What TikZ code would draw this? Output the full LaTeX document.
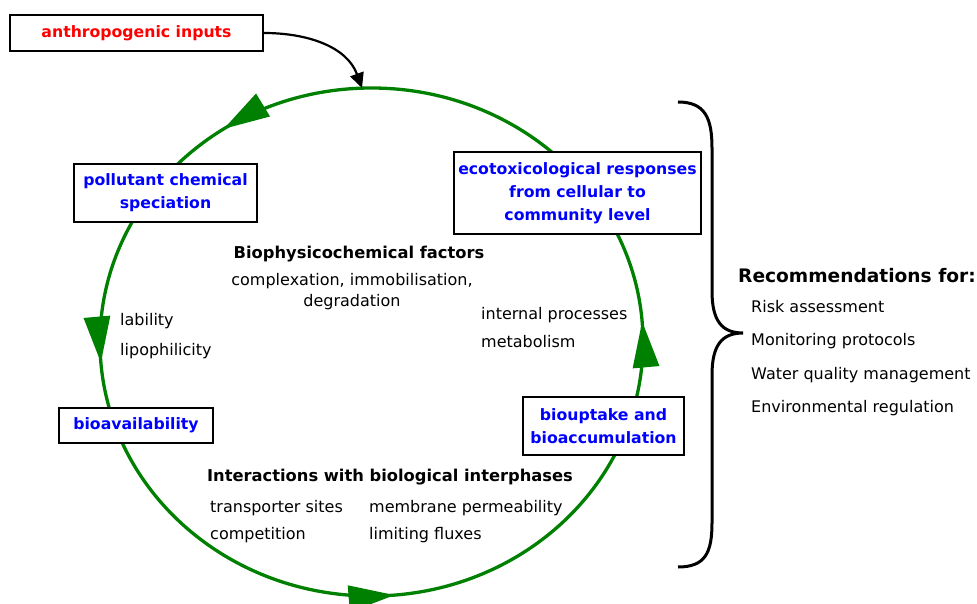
\documentclass[tikz,border=0pt]{standalone}
\usepackage{fontspec}
\setmainfont{DejaVu Sans}
\usetikzlibrary{arrows.meta,decorations.markings}
\definecolor{cyclegreen}{RGB}{0,128,0}
\newcommand{\boxfont}{\fontsize{15.7}{23}\selectfont\bfseries}
\newcommand{\headfont}{\fontsize{16.3}{23}\selectfont\bfseries}
\newcommand{\txtfont}{\fontsize{16}{21}\selectfont}
\newcommand{\recfont}{\fontsize{18.6}{22}\selectfont\bfseries}

\begin{document}
\begin{tikzpicture}[x=1pt,y=1pt,>=Latex,
  stage/.style={draw=black,line width=1.6pt,fill=white,text=blue,font=\boxfont,align=center,inner sep=0pt},
  heading/.style={font=\headfont,inner sep=0pt},
  txt/.style={font=\txtfont,anchor=west,inner sep=0pt},
  flowtip/.tip={Triangle[length=46pt,width=26pt]}]
  \useasboundingbox (0,0) rectangle (977,603);
  % the cycle
  \coordinate (c) at (371.5,261);
  \coordinate (ctop) at (362,515);
  \draw[cyclegreen,line width=3.3pt,postaction={decorate},decoration={markings,
      mark=at position 0.0125 with {\arrow{flowtip}},
      mark=at position 0.344 with {\arrow{flowtip}},
      mark=at position 0.5125 with {\arrow{flowtip}},
      mark=at position 0.764 with {\arrow{flowtip}}}]
    (c) ellipse [x radius=271.5,y radius=254];
  % stages
  \node[stage,text=red,minimum width=253pt,minimum height=36pt] (anthro) at (136.5,570) {anthropogenic inputs};
  \node[stage,minimum width=183pt,minimum height=58pt] (spec) at (165.5,410) {pollutant chemical\\speciation};
  \node[stage,minimum width=247pt,minimum height=82pt] (ecotox) at (577.5,410) {ecotoxicological responses\\from cellular to\\community level};
  \node[stage,minimum width=154pt,minimum height=35pt] (bioav) at (136,177.5) {bioavailability};
  \node[stage,minimum width=161pt,minimum height=58pt] (bioup) at (603.5,177) {biouptake and\\bioaccumulation};
  \draw[line width=2.2pt,-{Triangle[length=15pt,width=14pt]}] (anthro.east) to[out=0,in=110] (ctop);
  % factors inside the cycle
  \node[heading] (biofac) at (359,349) {Biophysicochemical factors};
  \node[font=\txtfont,align=center,inner sep=0pt] (biolist) at (352,311.5) {complexation, immobilisation,\\degradation};
  \node[txt] (lab) at (120,282) {lability};
  \node[txt] (lipo) at (120,252) {lipophilicity};
  \node[txt] (intp) at (481,288) {internal processes};
  \node[txt] (metab) at (481,261) {metabolism};
  \node[heading] (inter) at (390,126) {Interactions with biological interphases};
  \node[txt] (trans) at (210,95) {transporter sites};
  \node[txt] (comp) at (210,68) {competition};
  \node[txt] (memb) at (369,95) {membrane permeability};
  \node[txt] (flux) at (369,68) {limiting fluxes};
  % recommendations
  \draw[line width=3pt] (678,501) .. controls (705,501) and (712,485) .. (712,455)
    -- (712,312) .. controls (712,282) and (722,270) .. (743,270)
    .. controls (722,270) and (712,258) .. (712,228)
    -- (712,80) .. controls (712,50) and (705,36) .. (678,36);
  \node[heading,font=\recfont,anchor=west] (rec) at (738,327) {Recommendations for:};
  \node[txt] (risk) at (751,296) {Risk assessment};
  \node[txt] (monit) at (751,262) {Monitoring protocols};
  \node[txt] (water) at (751,228) {Water quality management};
  \node[txt] (envreg) at (751,195) {Environmental regulation};
\end{tikzpicture}
\end{document}
